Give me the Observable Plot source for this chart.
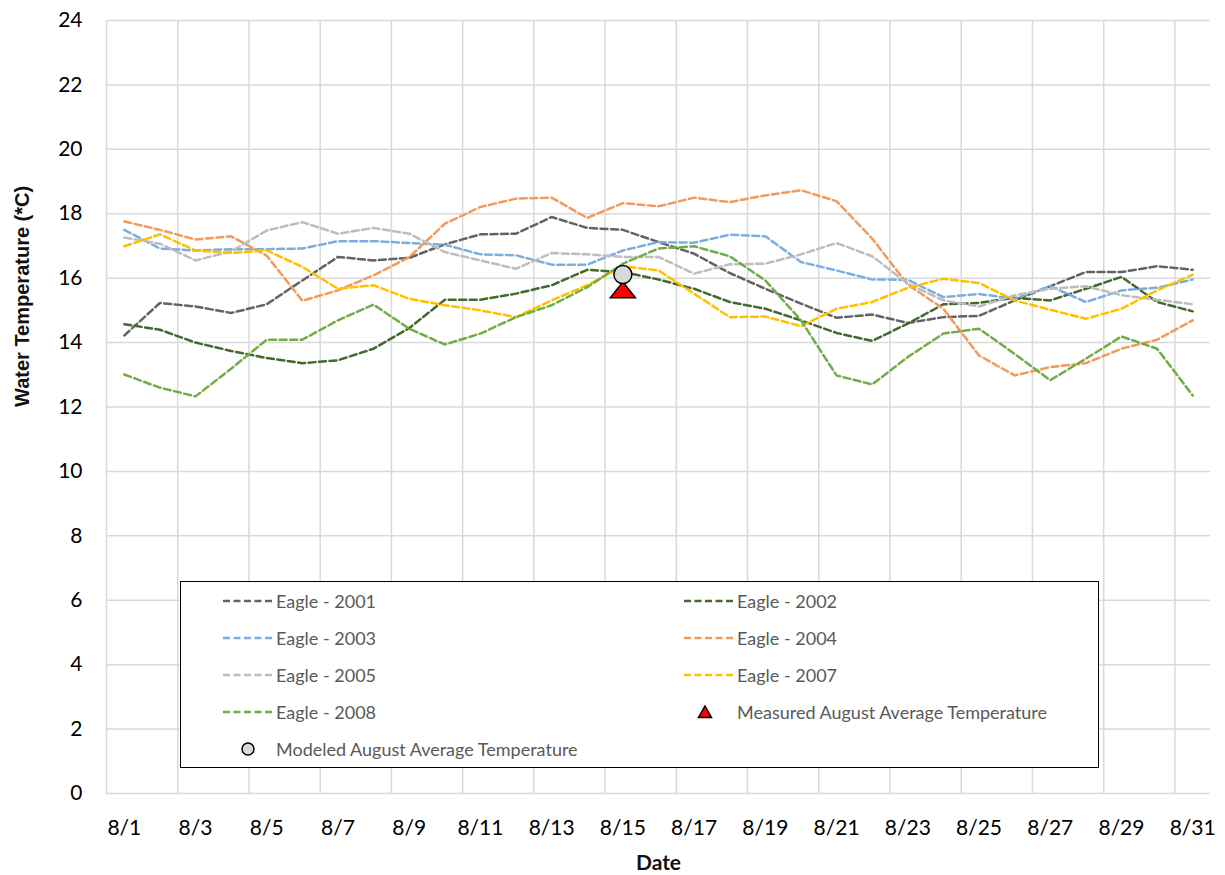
<!DOCTYPE html>
<html>
<head>
<meta charset="utf-8">
<script src="https://cdn.jsdelivr.net/npm/d3@7"></script>
<script src="https://cdn.jsdelivr.net/npm/@observablehq/plot@0.6"></script>
<style>
  html, body { margin: 0; padding: 0; background: #fff; }
  #wrap { position: relative; width: 1225px; height: 875px; font-family: Lato, "Open Sans", sans-serif; }
  #legend { position: absolute; left: 180px; top: 581px; width: 917px; height: 185px; border: 1.5px solid #000; background: #fff; box-sizing: content-box; }
  .li { position: absolute; height: 24px; display: flex; align-items: center; font-size: 18px; color: #595959; white-space: nowrap; }
  .li svg { flex: none; }
</style>
</head>
<body>
<div id="wrap"></div>
<script>
// ---- data ----
const days = d3.range(1, 32);
const tickDays = d3.range(1, 32, 2);
const gridDays = d3.range(0.5, 31, 2);
const yTicks = d3.range(0, 25, 2);
const seriesNames = ["Eagle - 2001", "Eagle - 2002", "Eagle - 2003", "Eagle - 2004", "Eagle - 2005", "Eagle - 2007", "Eagle - 2008"];
const eagle2001 = [14.22, 15.23, 15.12, 14.92, 15.19, 15.93, 16.66, 16.55, 16.63, 17.05, 17.36, 17.38, 17.9, 17.56, 17.5, 17.12, 16.76, 16.16, 15.67, 15.21, 14.77, 14.87, 14.61, 14.79, 14.83, 15.31, 15.75, 16.19, 16.19, 16.37, 16.26];
const eagle2002 = [14.57, 14.4, 14.0, 13.74, 13.52, 13.36, 13.45, 13.81, 14.45, 15.33, 15.33, 15.52, 15.78, 16.26, 16.19, 15.96, 15.67, 15.26, 15.05, 14.69, 14.3, 14.05, 14.59, 15.19, 15.23, 15.39, 15.31, 15.67, 16.04, 15.26, 14.97];
const eagle2003 = [17.5, 16.92, 16.86, 16.9, 16.9, 16.92, 17.15, 17.15, 17.09, 17.04, 16.74, 16.71, 16.42, 16.42, 16.86, 17.12, 17.1, 17.35, 17.3, 16.5, 16.24, 15.96, 15.95, 15.41, 15.51, 15.36, 15.75, 15.26, 15.62, 15.7, 15.96];
const eagle2004 = [17.76, 17.5, 17.2, 17.3, 16.7, 15.3, 15.62, 16.09, 16.65, 17.69, 18.21, 18.47, 18.5, 17.87, 18.33, 18.23, 18.5, 18.36, 18.57, 18.73, 18.39, 17.23, 15.8, 15.05, 13.6, 12.98, 13.24, 13.36, 13.81, 14.09, 14.69];
const eagle2005 = [17.26, 17.07, 16.55, 16.83, 17.48, 17.74, 17.38, 17.56, 17.38, 16.81, 16.55, 16.29, 16.78, 16.74, 16.66, 16.66, 16.14, 16.43, 16.45, 16.74, 17.09, 16.68, 15.83, 15.31, 15.12, 15.47, 15.67, 15.75, 15.47, 15.33, 15.19];
const eagle2007 = [16.99, 17.36, 16.86, 16.78, 16.86, 16.35, 15.67, 15.78, 15.36, 15.16, 15.0, 14.79, 15.31, 15.78, 16.37, 16.24, 15.52, 14.79, 14.81, 14.51, 15.05, 15.26, 15.7, 15.98, 15.85, 15.31, 15.02, 14.74, 15.05, 15.62, 16.11];
const eagle2008 = [13.01, 12.6, 12.33, 13.19, 14.09, 14.09, 14.69, 15.18, 14.43, 13.94, 14.28, 14.79, 15.16, 15.72, 16.45, 16.92, 16.99, 16.68, 15.93, 14.69, 12.98, 12.7, 13.55, 14.28, 14.43, 13.65, 12.83, 13.5, 14.19, 13.81, 12.36];
const seriesValues = [eagle2001, eagle2002, eagle2003, eagle2004, eagle2005, eagle2007, eagle2008];
const markerDay = 15;
const measuredAvg = 15.64;
const modeledAvg = 16.11;
const measuredLabel = "Measured August Average Temperature";
const modeledLabel = "Modeled August Average Temperature";

// ---- styles ----
const seriesColors = ["#636363", "#44692a", "#7aaee0", "#f29a5c", "#bdbdbd", "#ffc000", "#70ad47"];
const dash = "7,3.5";

const rows = seriesNames.map((name, k) => seriesValues[k].map((v, i) => ({day: days[i], temp: v, series: name})));

const triSymbol = {
  draw(ctx, size) {
    const r = Math.sqrt(size / Math.PI);
    const hw = r * 1.35, hh = r * 0.85;
    ctx.moveTo(0, -hh); ctx.lineTo(hw, hh); ctx.lineTo(-hw, hh); ctx.closePath();
  }
};

const chart = Plot.plot({
  width: 1225, height: 875,
  marginLeft: 106, marginRight: 15, marginTop: 20, marginBottom: 82,
  style: {fontFamily: "Lato, 'Open Sans', sans-serif", fontSize: "21px", color: "#000", background: "#fff", overflow: "visible"},
  x: {domain: [0.5, 31.5]},
  y: {domain: [0, 24]},
  marks: [
    Plot.ruleY(yTicks, {stroke: "#d9d9d9", strokeWidth: 1.5}),
    Plot.ruleX(gridDays, {stroke: "#d9d9d9", strokeWidth: 1.5}),
    Plot.axisX({ticks: tickDays, tickFormat: d => `8/${d}`, tickSize: 0, tickPadding: 27, label: null, fontSize: 21}),
    Plot.axisY({ticks: yTicks, tickSize: 0, tickPadding: 24, label: null, fontSize: 21}),
    ...rows.map((r, k) => Plot.line(r, {x: "day", y: "temp", stroke: seriesColors[k], strokeWidth: 2.5, strokeDasharray: dash})),
    Plot.dot([{day: markerDay, temp: measuredAvg}], {x: "day", y: "temp", symbol: triSymbol, r: 9.3, fill: "#ff0000", stroke: "#000", strokeWidth: 1.5}),
    Plot.dot([{day: markerDay, temp: modeledAvg}], {x: "day", y: "temp", r: 9, fill: "#d9d9d9", stroke: "#000", strokeWidth: 1.5}),
    Plot.text(["Date"], {frameAnchor: "bottom", dy: 76, fontSize: 21, fontWeight: 700, fill: "#111"}),
    Plot.text(["Water Temperature (*C)"], {frameAnchor: "left", dx: -84, rotate: -90, fontSize: 20, fontWeight: 700, fill: "#111", fontFamily: "'Liberation Sans', Arial, sans-serif"})
  ]
});

const wrap = document.getElementById("wrap");
wrap.appendChild(chart);

// ---- legend (HTML overlay inside the plot area) ----
const legend = document.createElement("div");
legend.id = "legend";
wrap.appendChild(legend);
const rowY = [19, 56, 93, 130, 167];
const colSw = [42, 503];
const colTx = [95, 556];
function lineSwatch(color) {
  return `<svg width="50" height="6"><line x1="0" y1="3" x2="50" y2="3" stroke="${color}" stroke-width="2.5" stroke-dasharray="${dash}"/></svg>`;
}
function addItem(col, row, swatchHtml, label) {
  const el = document.createElement("div");
  el.className = "li";
  el.style.left = colSw[col] + "px";
  el.style.top = (rowY[row] - 12) + "px";
  el.innerHTML = `<span style="display:inline-flex;width:${colTx[col] - colSw[col]}px">${swatchHtml}</span><span>${label}</span>`;
  legend.appendChild(el);
}
seriesNames.forEach((name, k) => addItem(k % 2, Math.floor(k / 2), lineSwatch(seriesColors[k]), name));
addItem(1, 3, `<svg width="50" height="16" style="margin-left:-4px"><path d="M25,2 L31.5,13.5 L18.5,13.5 Z" fill="#ff0000" stroke="#000" stroke-width="1.5"/></svg>`, measuredLabel);
addItem(0, 4, `<svg width="50" height="16"><circle cx="25" cy="8" r="6" fill="#d9d9d9" stroke="#000" stroke-width="1.5"/></svg>`, modeledLabel);
</script>
</body>
</html>
